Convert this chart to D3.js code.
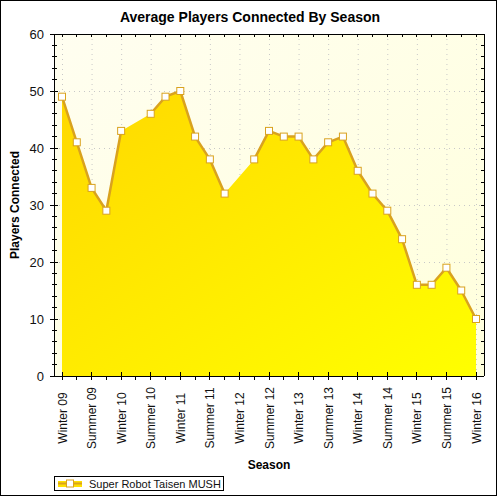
<!DOCTYPE html>
<html>
<head>
<meta charset="utf-8">
<script src="https://cdn.jsdelivr.net/npm/d3@7"></script>
<style>
  body { margin: 0; background: #fff; }
  text { font-family: "Liberation Sans", Arial, sans-serif; }
</style>
</head>
<body>
<div id="chart"></div>
<script>
// season labels sit on every second quarter
var seasonLabels = ["Winter 09", "Summer 09", "Winter 10", "Summer 10", "Winter 11", "Summer 11",
  "Winter 12", "Summer 12", "Winter 13", "Summer 13", "Winter 14", "Summer 14",
  "Winter 15", "Summer 15", "Winter 16"];
// one value per quarter, null = no data
var players = [49, 41, 33, 29, 43, null, 46, 49, 50, 42, 38, 32, null, 38, 43,
  42, 42, 38, 41, 42, 36, 32, 29, 24, 16, 16, 19, 15, 10];
var yTicks = [0, 10, 20, 30, 40, 50, 60];
var seriesName = "Super Robot Taisen MUSH";

var W = 500, H = 500;
var box = { left: 54, right: 484, top: 34, bottom: 376 };

var svg = d3.select("#chart").append("svg").attr("width", W).attr("height", H);
var defs = svg.append("defs");

var bg = defs.append("linearGradient").attr("id", "bgGrad")
  .attr("x1", "0").attr("y1", "0").attr("x2", "1").attr("y2", "1");
bg.append("stop").attr("offset", "0").attr("stop-color", "#fffef0");
bg.append("stop").attr("offset", "1").attr("stop-color", "#ffffdc");

var fillG = defs.append("linearGradient").attr("id", "areaGrad")
  .attr("x1", "0").attr("y1", "0").attr("x2", "1").attr("y2", "1");
fillG.append("stop").attr("offset", "0").attr("stop-color", "#ffd800");
fillG.append("stop").attr("offset", "1").attr("stop-color", "#ffff00");

// outer frame
svg.append("rect").attr("x", 0.5).attr("y", 0.5).attr("width", 496).attr("height", 495)
  .attr("fill", "#fff").attr("stroke", "#000");

var x = d3.scaleLinear().domain([0, players.length - 1]).range([62, 476]);
var y = d3.scaleLinear().domain([0, 60]).range([box.bottom, box.top]);

svg.append("rect").attr("x", box.left).attr("y", box.top)
  .attr("width", box.right - box.left).attr("height", box.bottom - box.top)
  .attr("fill", "url(#bgGrad)");

// grid
var grid = svg.append("g").attr("stroke", "#c8c8c8").attr("stroke-dasharray", "1,4");
yTicks.slice(1, -1).forEach(function(v) {
  grid.append("line").attr("x1", box.left).attr("x2", box.right)
    .attr("y1", y(v) + 0.5).attr("y2", y(v) + 0.5);
});
seasonLabels.forEach(function(s, i) {
  grid.append("line").attr("x1", x(i * 2) + 0.5).attr("x2", x(i * 2) + 0.5)
    .attr("y1", box.top).attr("y2", box.bottom);
});

var pts = players.map(function(v, i) { return { i: i, v: v }; });
var valid = pts.filter(function(d) { return d.v !== null; });

var area = d3.area().x(function(d) { return x(d.i); })
  .y0(y(0)).y1(function(d) { return y(d.v); });
svg.append("path").datum(valid).attr("d", area).attr("fill", "url(#areaGrad)");

var line = d3.line().defined(function(d) { return d.v !== null; })
  .x(function(d) { return x(d.i); }).y(function(d) { return y(d.v); });
svg.append("path").datum(pts).attr("d", line).attr("fill", "none")
  .attr("stroke", "#d9a21e").attr("stroke-width", 2.5).attr("stroke-linejoin", "round");

svg.selectAll("rect.mk").data(valid).enter().append("rect").attr("class", "mk")
  .attr("x", function(d) { return x(d.i) - 3.5; })
  .attr("y", function(d) { return y(d.v) - 3.5; })
  .attr("width", 7).attr("height", 7)
  .attr("fill", "#fff").attr("stroke", "#d9a21e").attr("stroke-width", 1);

// axes frame
var ax = svg.append("g").attr("stroke", "#000").attr("stroke-width", 1).attr("shape-rendering", "crispEdges");
ax.append("line").attr("x1", box.left).attr("x2", box.left).attr("y1", box.top).attr("y2", box.bottom);
ax.append("line").attr("x1", box.left).attr("x2", box.right).attr("y1", box.bottom).attr("y2", box.bottom);
ax.append("line").attr("x1", 50).attr("x2", box.right).attr("y1", box.top).attr("y2", box.top);
ax.append("line").attr("x1", box.right).attr("x2", box.right).attr("y1", box.top).attr("y2", box.bottom);

d3.range(0, 61, 2).forEach(function(v) {
  var major = v % 10 === 0;
  ax.append("line").attr("x1", major ? 50 : 52).attr("x2", major ? 58 : 57)
    .attr("y1", y(v)).attr("y2", y(v));
  ax.append("line").attr("x1", box.right - 3).attr("x2", box.right)
    .attr("y1", y(v)).attr("y2", y(v));
});
d3.range(0, players.length).forEach(function(i) {
  var major = i % 2 === 0;
  ax.append("line").attr("x1", x(i)).attr("x2", x(i))
    .attr("y1", major ? 372 : 376).attr("y2", 380);
  ax.append("line").attr("x1", x(i)).attr("x2", x(i))
    .attr("y1", box.top).attr("y2", box.top + 3);
});

// tick labels
svg.selectAll("text.yl").data(yTicks).enter().append("text").attr("class", "yl")
  .attr("x", 44).attr("y", function(d) { return y(d) + 5; })
  .attr("text-anchor", "end").attr("font-size", 13).attr("fill", "#111")
  .text(function(d) { return d; });

svg.selectAll("text.xl").data(seasonLabels).enter().append("text").attr("class", "xl")
  .attr("transform", function(d, i) { return "translate(" + (x(i * 2) + 4.5) + ",418) rotate(-90)"; })
  .attr("text-anchor", "middle").attr("font-size", 12).attr("fill", "#111")
  .text(function(d) { return d; });

// titles
svg.append("text").attr("x", 250).attr("y", 22).attr("text-anchor", "middle")
  .attr("font-size", 14).attr("font-weight", "bold").text("Average Players Connected By Season");
svg.append("text").attr("x", 269).attr("y", 469).attr("text-anchor", "middle")
  .attr("font-size", 12).attr("font-weight", "bold").text("Season");
svg.append("text").attr("transform", "translate(19,205) rotate(-90)").attr("text-anchor", "middle")
  .attr("font-size", 12).attr("font-weight", "bold").text("Players Connected");

// legend
var lg = svg.append("g");
lg.append("rect").attr("x", 54.5).attr("y", 476.5).attr("width", 169).attr("height", 14)
  .attr("fill", "#fff").attr("stroke", "#000");
lg.append("rect").attr("x", 58).attr("y", 481).attr("width", 24).attr("height", 6).attr("fill", "#ffe000");
lg.append("line").attr("x1", 58).attr("x2", 82).attr("y1", 483.5).attr("y2", 483.5)
  .attr("stroke", "#d9a21e").attr("stroke-width", 2);
lg.append("rect").attr("x", 66.5).attr("y", 480).attr("width", 7).attr("height", 7)
  .attr("fill", "#fff").attr("stroke", "#d9a21e");
lg.append("text").attr("x", 89).attr("y", 488).attr("font-size", 11).attr("fill", "#111").text(seriesName);
</script>
</body>
</html>
